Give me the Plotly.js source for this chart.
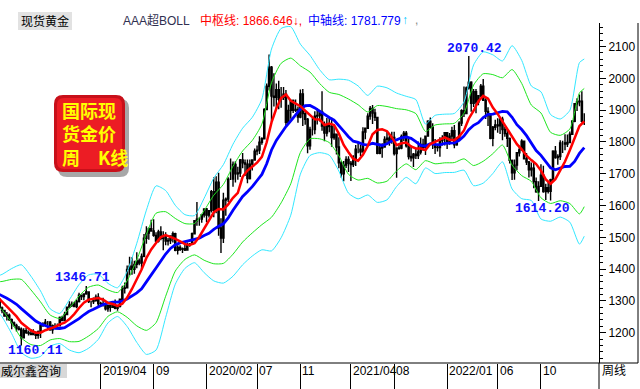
<!DOCTYPE html>
<html><head><meta charset="utf-8">
<script src="https://cdn.plot.ly/plotly-3.0.1.min.js"></script>
<style>html,body{margin:0;padding:0;background:#fff;}#chart{width:640px;height:389px;}</style>
</head><body><div id="chart"></div>
<script>
// ---- weekly candles, first candle week of 2018-06-11 ----
const firstWeek = '2018-06-11';
const openP = [
1299,1278,1270,1252,1255,1241,1231,1223,1214,1211, 1184,1206,1201,1198,1194,1199,1192,1203,1222,1227,
1233,1233,1209,1222,1222,1222,1248,1238,1257,1280, 1287,1290,1282,1298,1318,1314,1322,1328,1298,1298,
1302,1312,1292,1291,1290,1275,1286,1280,1285,1277, 1283,1305,1340,1341,1399,1409,1399,1415,1426,1419,
1440,1497,1513,1527,1520,1506,1488,1517,1497,1504, 1488,1490,1504,1511,1459,1468,1462,1464,1460,1476,
1478,1511,1552,1557,1557,1571,1589,1570,1584,1643, 1585,1673,1529,1498,1617,1620,1683,1683,1729,1700,
1702,1743,1734,1730,1685,1730,1743,1771,1774,1799, 1810,1902,1975,2035,1944,1940,1964,1934,1940,1950,
1862,1899,1930,1899,1902,1878,1951,1889,1871,1788, 1839,1839,1881,1883,1895,1850,1828,1856,1848,1814,
1824,1784,1734,1700,1727,1745,1733,1729,1744,1777, 1777,1769,1831,1843,1881,1905,1891,1877,1764,1781,
1784,1808,1812,1802,1814,1763,1780,1781,1817,1827, 1788,1754,1750,1761,1757,1768,1792,1783,1818,1865,
1846,1792,1783,1782,1804,1811,1829,1797,1818,1835, 1791,1808,1859,1898,1889,1970,1988,1921,1958,1925,
1945,1975,1931,1896,1883,1811,1846,1853,1851,1871, 1839,1826,1811,1742,1703,1727,1766,1775,1802,1747,
1737,1712,1717,1675,1643,1660,1695,1644,1656,1645, 1681,1771,1751,1754,1797,1797,1793,1798,1824,1865,
1920,1926,1928,1865];
const highP = [
1309,1282,1272,1265,1260,1245,1235,1228,1221,1216, 1214,1215,1207,1212,1211,1204,1207,1232,1233,1243,
1237,1237,1226,1230,1229,1251,1253,1266,1282,1299, 1298,1297,1304,1326,1319,1323,1347,1330,1300,1311,
1320,1324,1297,1310,1295,1287,1289,1290,1304,1287, 1306,1348,1358,1411,1439,1437,1426,1453,1433,1449,
1510,1535,1531,1555,1557,1516,1524,1535,1519,1516, 1498,1506,1518,1514,1475,1475,1468,1485,1484,1482,
1515,1553,1611,1563,1574,1591,1592,1584,1649,1689, 1692,1703,1560,1640,1625,1689,1748,1738,1739,1722,
1746,1765,1745,1745,1745,1744,1779,1789,1818,1815, 1906,1984,2075,2039,2016,1984,1992,1973,1973,1963,
1917,1932,1933,1933,1911,1965,1966,1900,1875,1848, 1875,1896,1906,1900,1959,1864,1875,1876,1876,1855,
1825,1815,1740,1740,1755,1755,1740,1758,1790,1798, 1790,1846,1845,1890,1913,1916,1904,1879,1795,1796,
1818,1834,1825,1832,1832,1783,1794,1823,1834,1834, 1809,1788,1765,1781,1801,1814,1810,1819,1868,1877,
1859,1809,1793,1815,1821,1831,1831,1828,1848,1853, 1815,1865,1903,1974,1974,2070,1991,1966,1966,1947,
1982,1998,1937,1909,1884,1850,1870,1874,1876,1879, 1848,1842,1814,1745,1745,1767,1788,1808,1802,1765,
1740,1735,1735,1688,1676,1730,1725,1668,1675,1684, 1774,1787,1761,1805,1804,1824,1823,1833,1869,1922,
1937,1949,1959,1890];
const lowP = [
1276,1261,1250,1238,1237,1211,1219,1204,1207,1160, 1183,1196,1191,1192,1192,1180,1181,1183,1219,1222,
1211,1206,1197,1212,1212,1222,1236,1236,1257,1277, 1281,1280,1277,1295,1303,1302,1319,1293,1280,1290,
1297,1281,1281,1282,1270,1266,1266,1278,1274,1269, 1279,1305,1323,1340,1381,1382,1385,1403,1412,1400,
1437,1480,1492,1519,1502,1484,1484,1491,1459,1475, 1474,1479,1484,1456,1446,1457,1451,1457,1459,1470,
1476,1511,1536,1536,1546,1562,1547,1562,1578,1563, 1576,1505,1451,1482,1568,1611,1680,1659,1672,1681,
1690,1717,1693,1670,1682,1710,1742,1758,1762,1791, 1808,1900,1962,1863,1911,1903,1903,1907,1932,1848,
1860,1873,1891,1894,1860,1874,1850,1854,1764,1775, 1820,1824,1855,1864,1835,1802,1817,1830,1785,1807,
1760,1717,1687,1676,1718,1705,1677,1721,1724,1764, 1756,1766,1808,1843,1870,1856,1866,1761,1761,1750,
1782,1792,1788,1794,1757,1687,1775,1777,1803,1782, 1745,1738,1721,1746,1746,1760,1772,1759,1817,1843,
1778,1762,1770,1753,1789,1789,1778,1791,1805,1780, 1788,1806,1850,1878,1889,1965,1895,1910,1890,1915,
1941,1930,1872,1850,1808,1786,1837,1829,1825,1805, 1816,1784,1732,1680,1681,1711,1754,1772,1745,1727,
1688,1691,1654,1640,1614,1660,1640,1617,1638,1616, 1676,1747,1728,1743,1765,1774,1784,1796,1824,1862,
1897,1912,1861,1853];
const closeP = [
1278,1270,1252,1255,1241,1231,1223,1214,1211,1184, 1206,1201,1198,1194,1199,1192,1203,1222,1227,1233,
1233,1209,1222,1222,1222,1248,1238,1257,1280,1287, 1290,1282,1298,1318,1314,1322,1328,1298,1298,1302,
1312,1292,1291,1290,1275,1286,1280,1285,1277,1283, 1305,1340,1341,1399,1409,1399,1415,1426,1419,1440,
1497,1513,1527,1520,1506,1488,1517,1497,1504,1488, 1490,1504,1511,1459,1468,1462,1464,1460,1476,1478,
1511,1552,1557,1557,1571,1589,1570,1584,1643,1585, 1673,1529,1498,1617,1620,1683,1683,1729,1700,1702,
1743,1734,1730,1685,1730,1743,1771,1774,1799,1810, 1902,1975,2035,1944,1940,1964,1934,1940,1950,1862,
1899,1930,1899,1902,1878,1951,1889,1871,1788,1839, 1839,1881,1883,1895,1850,1828,1856,1848,1814,1824,
1784,1734,1700,1727,1745,1733,1729,1744,1777,1777, 1769,1831,1843,1881,1905,1891,1877,1764,1781,1784,
1808,1812,1802,1814,1763,1780,1781,1817,1827,1788, 1754,1750,1761,1757,1768,1792,1783,1818,1865,1846,
1792,1783,1782,1804,1811,1829,1797,1818,1835,1791, 1808,1859,1898,1889,1970,1988,1921,1958,1925,1945,
1975,1931,1896,1883,1811,1846,1853,1851,1871,1839, 1826,1811,1742,1703,1727,1766,1775,1802,1747,1737,
1712,1717,1675,1643,1660,1695,1644,1656,1645,1681, 1771,1751,1754,1797,1797,1793,1798,1824,1865,1920,
1926,1928,1865,1865];

// ---- 中枢线 (red) and 中轴线 (blue), one value every 2 weeks from week -1 ----
const midLine = [
1313.3,1298.4,1284.0,1268.9,1251.3,1231.2,1218.4,1206.9,1199.9,1199.9,
1207.7,1212.4,1218.1,1226.4,1231.6,1242.8,1258.4,1277.6,1294.2,1304.1,
1306.7,1309.3,1303.7,1293.8,1290.3,1284.3,1291.2,1310.7,1337.6,1368.6,
1398.7,1435.2,1461.8,1481.8,1500.6,1506.7,1501.6,1495.3,1487.0,1478.4,
1475.8,1481.1,1501.9,1527.9,1552.1,1578.7,1589.0,1587.6,1603.6,1624.1,
1640.1,1690.1,1709.9,1721.8,1734.7,1752.9,1798.8,1861.4,1904.8,1938.2,
1949.3,1929.2,1920.0,1912.3,1897.9,1883.0,1870.9,1870.7,1852.7,1857.7,
1853.2,1825.9,1790.6,1767.7,1746.7,1740.7,1759.1,1787.1,1824.2,1837.6,
1839.7,1833.7,1814.8,1789.8,1795.7,1798.2,1786.0,1779.4,1779.3,1774.6,
1793.3,1800.4,1807.2,1814.4,1806.9,1805.6,1816.9,1836.0,1872.9,1898.0,
1928.1,1944.7,1935.8,1907.8,1887.9,1864.6,1843.4,1815.8,1792.9,1776.8,
1756.7,1742.9,1730.4,1709.8,1682.1,1668.4,1682.9,1710.4,1738.3,1774.0,
1811.0,1849.8,1864.9];
const axisLine = [
1323.4,1316.7,1308.5,1299.4,1289.4,1275.6,1262.0,1248.7,1236.6,1228.3,
1221.7,1216.4,1213.3,1213.2,1216.1,1224.7,1232.9,1244.1,1256.4,1266.4,
1273.4,1281.5,1288.4,1292.9,1296.4,1296.1,1299.7,1305.9,1314.5,1325.3,
1338.2,1358.5,1381.8,1403.5,1425.9,1447.5,1465.0,1476.5,1482.6,1486.7,
1491.5,1494.1,1497.5,1505.8,1512.8,1524.6,1535.0,1542.2,1560.9,1585.3,
1607.7,1628.4,1643.4,1659.1,1678.6,1697.7,1731.4,1774.6,1804.7,1827.8,
1848.3,1865.9,1885.2,1903.0,1913.7,1914.6,1906.8,1896.7,1885.4,1876.9,
1868.2,1852.7,1834.0,1816.4,1802.1,1798.4,1792.4,1789.7,1795.6,1792.5,
1788.8,1793.9,1803.4,1806.6,1812.9,1815.9,1811.1,1800.8,1789.0,1787.0,
1794.3,1792.1,1790.6,1795.4,1796.3,1796.8,1805.0,1818.4,1838.3,1852.2,
1860.2,1876.7,1886.4,1887.2,1891.7,1895.9,1894.4,1877.3,1854.0,1838.9,
1819.6,1795.8,1772.7,1757.6,1737.4,1718.2,1712.5,1717.8,1722.6,1723.4,
1738.4,1763.8,1782.1];

// ---- bands (green inner, cyan outer), weeks -1, 1, 5, 9 ... 241, 243 ----
const greenUp = [1360.0,1361.1,1367.6,1367.6,1334.7,1296.9,1255.6,1244.8,1277.5,1315.5,1343.2,1349.9,1334.5,1326.3,1363.5,1429.1,1509.7,1575.7,1580.5,1559.3,1543.1,1543.5,1583.8,1632.4,1666.4,1723.7,1771.6,1804.5,1855.7,1986.2,2047.2,2063.5,2039.2,2019.6,1983.7,1955.9,1949.1,1934.8,1916.8,1894.1,1914.3,1911.3,1904.6,1900.9,1889.0,1833.0,1853.1,1856.6,1858.6,1890.0,1978.8,2014.3,2011.6,2001.7,2027.5,1983.9,1915.8,1891.0,1830.0,1820.6,1840.6,1954.0,1967.9];
const greenDn = [1286.8,1272.3,1231.2,1183.6,1162.7,1159.7,1177.2,1181.6,1171.9,1172.7,1189.6,1213.1,1251.3,1265.9,1248.3,1221.5,1207.3,1231.3,1314.5,1393.7,1430.3,1444.7,1427.8,1416.8,1418.0,1446.9,1485.2,1513.7,1539.7,1563.0,1608.4,1668.3,1766.8,1809.6,1809.7,1797.9,1756.3,1698.0,1680.0,1685.3,1670.7,1676.5,1708.6,1730.9,1712.6,1741.0,1731.1,1734.2,1735.0,1746.8,1725.6,1739.1,1762.8,1790.1,1727.1,1693.9,1675.8,1624.2,1606.4,1615.0,1606.2,1573.6,1596.3];
const cyanUp = [1378.3,1383.3,1401.7,1413.6,1377.7,1331.2,1275.2,1260.6,1303.9,1351.2,1381.6,1384.1,1355.3,1341.4,1392.3,1481.0,1585.3,1661.8,1647.0,1600.7,1571.3,1568.2,1622.8,1686.3,1728.5,1792.9,1843.2,1877.2,1934.7,2092.0,2156.9,2162.3,2107.3,2072.1,2027.2,1995.4,1997.3,1994.0,1976.0,1946.3,1975.2,1970.0,1953.6,1943.4,1933.1,1856.0,1883.6,1887.2,1889.5,1925.8,2042.1,2083.1,2073.8,2054.6,2102.6,2056.4,1975.8,1957.7,1885.9,1872.0,1899.2,2049.1,2060.8];
const cyanDn = [1268.5,1250.1,1197.1,1137.6,1119.7,1125.4,1157.6,1165.8,1145.5,1137.0,1151.2,1178.9,1230.5,1250.8,1219.5,1169.6,1131.7,1145.2,1248.0,1352.3,1402.1,1420.0,1388.8,1362.9,1355.9,1377.7,1413.6,1441.0,1460.7,1457.2,1498.7,1569.5,1698.7,1757.1,1766.2,1758.4,1708.1,1638.8,1620.8,1633.1,1609.8,1617.8,1659.6,1688.4,1668.5,1718.0,1700.6,1703.6,1704.1,1711.0,1662.3,1670.3,1700.6,1737.2,1652.0,1621.4,1615.8,1557.5,1550.5,1563.6,1547.6,1478.5,1503.4];

const tickDates = ['2019-04-01','2019-09-02','2020-02-03','2020-06-29','2020-11-02','2021-03-29','2021-08-02','2022-01-03','2022-05-30','2022-10-03'];
const tickText  = ['2019/04','09','2020/02','07','11','2021/04','08','2022/01','06','10'];
const yTicks = [1200,1300,1400,1500,1600,1700,1800,1900,2000,2100];
const peakLabels = ['1160.11','1346.71','2070.42','1614.20'];

// ---- helpers ----
const base = Date.UTC(2018,5,11);
function wk(w){ return new Date(base + w*7*86400000).toISOString().slice(0,10); }
const candleX = openP.map((_,i)=>wk(i));
const lineX = midLine.map((_,i)=>wk(-1+2*i));
const bandWeeks = [-1]; for(let w=1; w<=241; w+=4) bandWeeks.push(w); bandWeeks.push(243);
const bandX = bandWeeks.map(wk);

const PW = 599, PT = 23, PB = 363, PH = PB-PT;
const px = x => x/PW, py = y => (PB-y)/PH;
const SANS = 'Liberation Sans, Arial, Noto Sans CJK SC, sans-serif';
function ann(text, x, y, color, size, extra){
  return Object.assign({text:text, xref:'paper', yref:'paper', x:px(x), y:py(y), xanchor:'left', yanchor:'middle',
    showarrow:false, borderpad:0, font:{family:SANS, size:size||12, color:color||'#000'}}, extra||{});
}
function rr(x0,y0,x1,y1,r){
  const P=(x,y)=>px(x)+','+py(y);
  return 'M'+P(x0+r,y0)+' L'+P(x1-r,y0)+' Q'+P(x1,y0)+' '+P(x1,y0+r)+' L'+P(x1,y1-r)+' Q'+P(x1,y1)+' '+P(x1-r,y1)+
    ' L'+P(x0+r,y1)+' Q'+P(x0,y1)+' '+P(x0,y1-r)+' L'+P(x0,y0+r)+' Q'+P(x0,y0)+' '+P(x0+r,y0)+' Z';
}
const MONO = {family:'Liberation Mono, monospace', size:13, color:'#1010ff', weight:'bold'};

const traces = [
  {type:'scatter', mode:'lines', x:bandX, y:cyanUp, line:{color:'#33e8ff', width:1, shape:'spline', smoothing:0.6}, hoverinfo:'skip'},
  {type:'scatter', mode:'lines', x:bandX, y:cyanDn, line:{color:'#33e8ff', width:1, shape:'spline', smoothing:0.6}, hoverinfo:'skip'},
  {type:'scatter', mode:'lines', x:bandX, y:greenUp, line:{color:'#1ee61e', width:1, shape:'spline', smoothing:0.6}, hoverinfo:'skip'},
  {type:'scatter', mode:'lines', x:bandX, y:greenDn, line:{color:'#1ee61e', width:1, shape:'spline', smoothing:0.6}, hoverinfo:'skip'},
  {type:'candlestick', x:candleX, open:openP, high:highP, low:lowP, close:closeP, whiskerwidth:0,
   increasing:{line:{color:'#000', width:1.4}, fillcolor:'#000'}, decreasing:{line:{color:'#000', width:1.4}, fillcolor:'#000'}, hoverinfo:'skip'},
  {type:'scatter', mode:'lines', x:lineX, y:axisLine, line:{color:'#0000ff', width:2.8}, hoverinfo:'skip'},
  {type:'scatter', mode:'lines', x:lineX, y:midLine, line:{color:'#ff0000', width:2.5}, hoverinfo:'skip'}
];

const annotations = [
  ann('现货黄金', 20, 21, '#000', 12),
  ann('AAA超BOLL', 122, 20, '#303050', 12),
  ann('中枢线: 1866.646↓,', 199, 20, '#ff0000', 12),
  ann('中轴线: 1781.779', 307, 20, '#0000ff', 12),
  ann('↑', 401, 20, '#00c8ff', 12),
  ann(',', 414, 20, '#888', 12),
  ann('<b>国际现<br>货金价<br>周　K线</b>', 61, 133, '#ffff00', 18, {align:'left', font:{family:'Noto Sans CJK SC', size:18, color:'#ffff00'}}),
  ann(peakLabels[0], 7, 350.5, '#1010ff', 13, {font:MONO}),
  ann(peakLabels[1], 54, 277.5, '#1010ff', 13, {font:MONO}),
  ann(peakLabels[2], 446, 49, '#1010ff', 13, {font:MONO}),
  ann(peakLabels[3], 514, 208, '#1010ff', 13, {font:MONO}),
  ann('威尔鑫咨询', 0, 371, '#000', 12),
  ann('周线', 601, 371, '#000', 12)
];
tickDates.forEach((d,i)=>annotations.push({text:tickText[i], xref:'x', yref:'paper', x:d, y:py(371), xanchor:'left', yanchor:'middle',
  xshift:1, showarrow:false, borderpad:0, font:{family:SANS, size:12, color:'#000'}}));

const shapes = [
  {type:'rect', xref:'paper', yref:'paper', x0:px(18), x1:px(72), y0:py(12), y1:py(30), fillcolor:'#e2e2e2', line:{width:0}, layer:'below'},
  {type:'rect', xref:'paper', yref:'paper', x0:px(0), x1:px(67), y0:py(364), y1:py(378), fillcolor:'#d8d8d8', line:{width:0}, layer:'below'},
  {type:'path', xref:'paper', yref:'paper', path:rr(58,99,129,177,9), fillcolor:'rgba(60,60,60,0.45)', line:{width:0}},
  {type:'path', xref:'paper', yref:'paper', path:rr(54,95,125,172,9), fillcolor:'#c8101a', line:{width:0}},
  {type:'path', xref:'paper', yref:'paper', path:rr(57,98,122,169,7), fillcolor:'#ec1c24', line:{width:0}},
  {type:'line', xref:'paper', yref:'paper', x0:px(0), x1:px(638), y0:py(363), y1:py(363), line:{color:'#000', width:1}},
  {type:'line', xref:'paper', yref:'paper', x0:px(638), x1:px(638), y0:py(23), y1:py(363), line:{color:'#000', width:1}},
  {type:'line', xref:'paper', yref:'paper', x0:px(599), x1:px(599), y0:py(363), y1:py(389), line:{color:'#000', width:1}}
];

const layout = {
  width:640, height:389, margin:{l:0, r:41, t:23, b:26, pad:0},
  paper_bgcolor:'#fff', plot_bgcolor:'#fff', showlegend:false,
  xaxis:{type:'date', range:['2018-06-12 00:30','2023-03-20 21:00'], showgrid:false, zeroline:false, showline:false,
    tickmode:'array', tickvals:tickDates, showticklabels:false, ticks:'outside', ticklen:26, tickcolor:'#000', tickwidth:1,
    rangeslider:{visible:false}, fixedrange:true},
  yaxis:{side:'right', range:[1104.7,2173.9], showgrid:false, zeroline:false, showline:true, linecolor:'#000', linewidth:1,
    tickmode:'array', tickvals:yTicks, ticktext:yTicks.map(String), ticks:'outside', ticklen:6, tickcolor:'#000', tickwidth:1,
    tickfont:{family:SANS, size:12, color:'#000'},
    minor:{ticks:'outside', ticklen:3, tickcolor:'#000', tickwidth:1, tick0:1100, dtick:20, showgrid:false}, fixedrange:true},
  annotations:annotations, shapes:shapes
};
Plotly.newPlot('chart', traces, layout, {staticPlot:true, displayModeBar:false});
</script></body></html>
